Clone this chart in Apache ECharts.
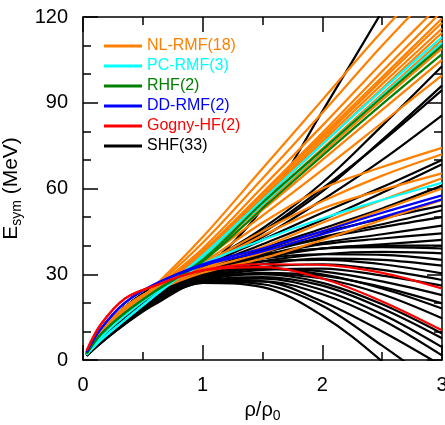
<!DOCTYPE html>
<html><head><meta charset="utf-8">
<script src="https://cdn.jsdelivr.net/npm/echarts@6/dist/echarts.min.js"></script>
<style>html,body{margin:0;padding:0;background:#fff}#c{width:445px;height:425px}</style>
</head><body><div id="c"></div>
<script>
// density grid (rho/rho0)
const xs = [0.03, 0.15, 0.35, 0.6, 1, 1.5, 2, 2.5, 3];
const xTicks = ['0', '1', '2', '3'];
const yTicks = ['0', '30', '60', '90', '120'];
const groupNames = ['NL-RMF(18)', 'PC-RMF(3)', 'RHF(2)', 'DD-RMF(2)', 'Gogny-HF(2)', 'SHF(33)'];
const groupColors = ['#FF8000', '#00FFFF', '#008000', '#0000FF', '#FF0000', '#000000'];

const nlRmf = [
  [2.2, 9, 17, 26, 43, 67, 91, 115, 137],
  [2.2, 9, 17, 25.5, 41, 63.5, 86.5, 110, 132],
  [2.1, 8.7, 16.5, 25, 39, 60.5, 82, 104, 125],
  [2.1, 8.7, 16.5, 24.5, 38, 58.5, 79.5, 101, 122],
  [2, 8.5, 16, 24.5, 38, 58, 78.5, 99, 119.5],
  [2, 8.5, 16, 24.5, 37.5, 57, 77.5, 98, 118],
  [2, 8.5, 16, 24, 37, 56.5, 76.5, 96.5, 116],
  [2, 8.5, 16, 24, 37, 56, 75.5, 95, 114.5],
  [2, 8.5, 16, 24, 36.5, 55, 74, 93, 112],
  [2, 8.5, 16, 24, 36, 54, 72.5, 91, 109],
  [2.1, 8.7, 16.5, 24, 35.5, 52.5, 70, 87.5, 105],
  [2.1, 8.7, 16.5, 24, 35, 50.5, 66.5, 83, 99.6],
  [2.5, 10, 18.5, 25, 34, 48, 60, 67.5, 74.2],
  [2.5, 10, 18.5, 25, 33.5, 45, 55.5, 64.5, 72],
  [2.5, 10, 18.5, 25, 33, 43.5, 53, 59.5, 65.3],
  [2.4, 9.5, 18, 24.5, 32, 39.5, 48, 56, 63.6],
  [2.4, 9.5, 18, 24.5, 31.5, 37.5, 45, 52.5, 60],
  [2.4, 9.5, 18, 24, 30.5, 35.5, 42, 49, 56]
];
const pcRmf = [
  [1.8, 7, 14, 22.5, 36.5, 56, 75.5, 94.5, 113],
  [1.8, 7, 14, 22.5, 35.5, 54.5, 73.5, 92.5, 111],
  [2, 8, 15.5, 23.5, 33.5, 42, 49.5, 56, 62]
];
const rhf = [
  [2.2, 9, 16.5, 24, 35, 55, 73.5, 92, 110],
  [2.2, 9, 16.5, 24, 34.5, 53, 71.5, 89.5, 107]
];
const ddRmf = [
  [2.8, 11, 20, 26.5, 33.5, 39, 45, 51.5, 57.6],
  [2.8, 11, 20, 26.5, 33, 38, 44, 50, 56.2]
];
const gognyHf = [
  [3.2, 12.5, 21.5, 26, 31.5, 33.5, 33.3, 30.5, 25],
  [3.2, 12.5, 21.5, 26, 31.3, 32.5, 28.5, 20.5, 10.4]
];
const shf = [
  [1.5, 6, 12.7, 20, 31, 53, 87, 122, 157],
  [1.6, 6.5, 13, 21.5, 33, 46, 62, 82, 102.8],
  [1.6, 6.5, 13, 21.5, 32.5, 44.5, 59, 77, 96],
  [1.7, 7, 14, 22, 33, 45, 60, 76.5, 94.4],
  [1.7, 7, 14, 22, 32, 43, 56, 70, 85.6],
  [1.8, 7, 14, 22.5, 32.5, 42, 51.5, 60.5, 70],
  [1.8, 7.5, 14.5, 22.5, 32, 40.5, 49, 58.5, 68.5],
  [2, 8, 15.5, 23, 31.5, 39, 46, 53, 61],
  [2, 8, 15.5, 23.5, 31.5, 38.5, 44.5, 49.5, 54],
  [1.8, 7.5, 14.5, 22.5, 31, 37.5, 43, 47.5, 52.4],
  [2.2, 9, 17, 24.5, 31.5, 37.5, 42.5, 46.5, 50],
  [1.8, 7.5, 14.5, 22.5, 30.5, 36.5, 41, 44, 47],
  [2.2, 9, 17, 24.5, 31, 36.5, 40.5, 42.5, 44.3],
  [1.8, 7, 14, 22, 30, 35.5, 39, 40.5, 42],
  [2.5, 10, 18.5, 25.5, 32, 36.5, 39, 40, 40],
  [2.5, 10, 18.5, 25.5, 32.5, 37, 39, 39.5, 39],
  [2, 8, 15.5, 23, 29.5, 34.5, 37, 37.8, 37.3],
  [2.5, 10, 18.5, 25.5, 31.5, 35.5, 37, 36.8, 35],
  [2.2, 9, 17, 24, 29.5, 33.5, 35.5, 35, 33],
  [2.5, 10, 18.5, 25.5, 31.5, 34.5, 35, 33.5, 30.3],
  [2.2, 9, 17, 24, 29, 32.5, 33.5, 31.5, 28],
  [2, 8, 15.5, 23, 28.5, 31.5, 32, 29.5, 26],
  [2.2, 9, 17, 24, 29.5, 32, 31, 27.5, 22.7],
  [1.8, 7.5, 14.5, 22, 28, 30.5, 29.5, 25.5, 19.8],
  [2.5, 10, 18.5, 25, 30.5, 32, 30, 25, 18],
  [1.8, 7.5, 14.5, 21.5, 28, 30, 28.5, 23, 14.6],
  [2, 8, 15.5, 22.5, 28.5, 30, 27, 19.5, 9.3],
  [1.7, 7, 14, 21, 27.5, 29, 26, 18, 7.6],
  [1.7, 7, 14, 21, 28, 28.5, 24.5, 16, 4.5],
  [1.6, 6.5, 13, 20.5, 27, 27.5, 23, 14, 1.6],
  [1.6, 6.5, 13, 20.5, 28, 27.5, 20.5, 10, -2],
  [1.5, 6, 12.7, 20, 27.5, 26.5, 19, 5, -10],
  [1.5, 6, 12.5, 19.5, 27, 25.5, 15.5, -0.5, -20]
];

const groupCurves = [nlRmf, pcRmf, rhf, ddRmf, gognyHf, shf];
const drawOrder = [5, 0, 1, 2, 3, 4];
const FONT = 'Liberation Sans, Arial, sans-serif';

const series = [];
drawOrder.forEach(gi => {
  groupCurves[gi].forEach(c => {
    series.push({
      type: 'line', name: groupNames[gi],
      data: xs.map((x, i) => [x, c[i]]),
      smooth: 0.35, symbol: 'none', showSymbol: false, clip: true, silent: true,
      lineStyle: { color: groupColors[gi], width: 2.2 },
      itemStyle: { color: groupColors[gi] },
      z: 2
    });
  });
});

const axisCommon = {
  axisLine: { show: true, onZero: false, lineStyle: { color: '#000', width: 1.5 } },
  axisTick: { show: true, inside: true, length: 15, lineStyle: { color: '#000', width: 1.5 } },
  minorTick: { show: true, length: 8, lineStyle: { color: '#000', width: 1.5 } },
  splitLine: { show: false }
};

const chart = echarts.init(document.getElementById('c'), null, { renderer: 'canvas' });
chart.setOption({
  animation: false,
  backgroundColor: '#fff',
  textStyle: { fontFamily: FONT },
  grid: { left: 83, right: 3, top: 17, bottom: 65, containLabel: false, outerBoundsMode: 'none' },
  legend: {
    orient: 'vertical', left: 104, top: 36, padding: 0, itemGap: 0,
    itemWidth: 38, itemHeight: 3, icon: 'rect',
    textStyle: { fontSize: 16, fontFamily: FONT, lineHeight: 20 },
    data: groupNames.map((n, i) => ({ name: n,
      textStyle: { color: groupColors[i], fontSize: 16, fontFamily: FONT, lineHeight: 20 } })),
    selectedMode: false
  },
  xAxis: [
    Object.assign({}, axisCommon, {
      type: 'value', min: 0, max: 3, interval: 1, position: 'bottom',
      minorTick: Object.assign({}, axisCommon.minorTick, { splitNumber: 2 }),
      axisLabel: { show: true, margin: 15, fontSize: 20, color: '#000', fontFamily: FONT,
        formatter: v => xTicks[Math.round(v)] },
      name: '{a|ρ/ρ}{s|0}', nameLocation: 'middle', nameGap: 37,
      nameTextStyle: { color: '#000', fontFamily: FONT,
        rich: { a: { fontSize: 20, fontFamily: FONT, color: '#000' },
                s: { fontSize: 14, fontFamily: FONT, color: '#000', padding: [12, 0, 0, 0] } } }
    }),
    Object.assign({}, axisCommon, {
      type: 'value', min: 0, max: 3, interval: 1, position: 'top',
      minorTick: Object.assign({}, axisCommon.minorTick, { splitNumber: 2 }),
      axisLabel: { show: false }
    })
  ],
  yAxis: [
    Object.assign({}, axisCommon, {
      type: 'value', min: 0, max: 120, interval: 30, position: 'left',
      minorTick: Object.assign({}, axisCommon.minorTick, { splitNumber: 3 }),
      axisLabel: { show: true, margin: 15, fontSize: 20, color: '#000', fontFamily: FONT,
        formatter: v => yTicks[Math.round(v / 30)] },
      name: '{a|E}{s|sym}{a| (MeV)}', nameLocation: 'middle', nameGap: 50, nameRotate: 90,
      nameTextStyle: { color: '#000', fontFamily: FONT,
        rich: { a: { fontSize: 21, fontFamily: FONT, color: '#000' },
                s: { fontSize: 14, fontFamily: FONT, color: '#000', padding: [12, 0, 0, 0] } } }
    }),
    Object.assign({}, axisCommon, {
      type: 'value', min: 0, max: 120, interval: 30, position: 'right',
      minorTick: Object.assign({}, axisCommon.minorTick, { splitNumber: 3 }),
      axisLabel: { show: false }
    })
  ],
  series: series
});
</script></body></html>
